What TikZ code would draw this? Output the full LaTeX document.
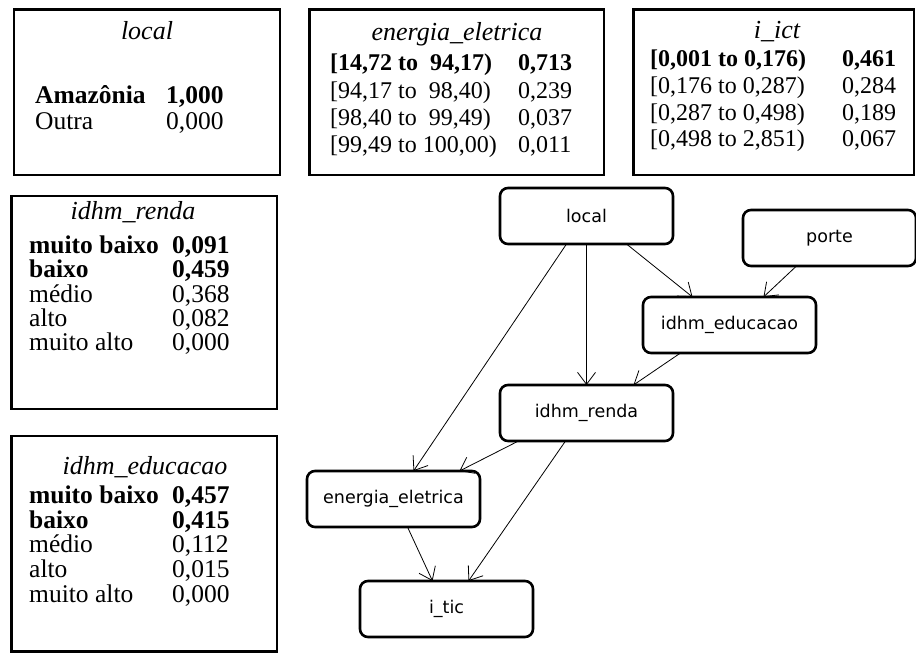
\documentclass[tikz,border=0pt]{standalone}
\usepackage{fontspec}
\setmainfont{Liberation Serif}
\newfontfamily\nodefont{DejaVu Sans}
\usetikzlibrary{arrows.meta,calc}

\begin{document}
\begin{tikzpicture}[x=1pt,y=-1pt,
  tablebox/.style={draw, line width=2.4pt},
  ttitle/.style={font=\fontsize{26}{26}\selectfont\itshape, anchor=base, inner sep=0pt},
  trow/.style={font=\fontsize{25.5}{25.5}\selectfont, anchor=base west, inner sep=0pt},
  trowb/.style={font=\fontsize{25.5}{25.5}\selectfont\bfseries, anchor=base west, inner sep=0pt},
  srow/.style={font=\fontsize{24}{24}\selectfont, anchor=base west, inner sep=0pt},
  srowb/.style={font=\fontsize{24}{24}\selectfont\bfseries, anchor=base west, inner sep=0pt},
  var/.style={draw, line width=2.6pt, rounded corners=8pt, minimum width=173pt,
    minimum height=56pt, inner sep=0pt, outer sep=0pt,
    font=\nodefont\fontsize{17.5}{20}\selectfont},
  link/.style={line width=0.8pt, -{Straight Barb[length=12pt,width=18pt,line width=0.8pt]}}
]
\useasboundingbox (0,0) rectangle (916,653);

% ---------- probability tables ----------
\draw[tablebox] (14,9.5) rectangle (280,175);
\node[ttitle] (loc-t) at (147,39) {local};
\node[trowb] (loc-1l) at (35,103) {Amazônia};
\node[trowb] (loc-1v) at (166,103) {1,000};
\node[trow]  (loc-2l) at (35,129) {Outra};
\node[trow]  (loc-2v) at (166,129) {0,000};

\draw[tablebox] (309.5,9.5) rectangle (604,175);
\node[ttitle] (en-t) at (457,40) {energia\_eletrica};
\node[srowb] (en-1l) at (330,70) {[14,72 to~~94,17)};
\node[srowb] (en-1v) at (518,70) {0,713};
\node[srow]  (en-2l) at (330,98) {[94,17 to~~98,40)};
\node[srow]  (en-2v) at (518,98) {0,239};
\node[srow]  (en-3l) at (330,125) {[98,40 to~~99,49)};
\node[srow]  (en-3v) at (518,125) {0,037};
\node[srow]  (en-4l) at (330,152) {[99,49 to 100,00)};
\node[srow]  (en-4v) at (518,152) {0,011};

\draw[tablebox] (633.5,9.5) rectangle (914,175);
\node[ttitle] (ict-t) at (777,38) {i\_ict};
\node[srowb] (ict-1l) at (650,66) {[0,001 to 0,176)};
\node[srowb] (ict-1v) at (842,66) {0,461};
\node[srow]  (ict-2l) at (650,93) {[0,176 to 0,287)};
\node[srow]  (ict-2v) at (842,93) {0,284};
\node[srow]  (ict-3l) at (650,120) {[0,287 to 0,498)};
\node[srow]  (ict-3v) at (842,120) {0,189};
\node[srow]  (ict-4l) at (650,146) {[0,498 to 2,851)};
\node[srow]  (ict-4v) at (842,146) {0,067};

\draw[tablebox] (11.5,196) rectangle (277,409);
\node[ttitle] (re-t) at (133,219) {idhm\_renda};
\node[trowb] (re-1l) at (29,253) {muito baixo};
\node[trowb] (re-1v) at (172,253) {0,091};
\node[trowb] (re-2l) at (29,277) {baixo};
\node[trowb] (re-2v) at (172,277) {0,459};
\node[trow]  (re-3l) at (29,302) {médio};
\node[trow]  (re-3v) at (172,302) {0,368};
\node[trow]  (re-4l) at (29,326) {alto};
\node[trow]  (re-4v) at (172,326) {0,082};
\node[trow]  (re-5l) at (29,350) {muito alto};
\node[trow]  (re-5v) at (172,350) {0,000};

\draw[tablebox] (11.5,436) rectangle (277,651.5);
\node[ttitle] (ed-t) at (145,474) {idhm\_educacao};
\node[trowb] (ed-1l) at (29,503) {muito baixo};
\node[trowb] (ed-1v) at (172,503) {0,457};
\node[trowb] (ed-2l) at (29,528) {baixo};
\node[trowb] (ed-2v) at (172,528) {0,415};
\node[trow]  (ed-3l) at (29,552) {médio};
\node[trow]  (ed-3v) at (172,552) {0,112};
\node[trow]  (ed-4l) at (29,577) {alto};
\node[trow]  (ed-4v) at (172,577) {0,015};
\node[trow]  (ed-5l) at (29,602) {muito alto};
\node[trow]  (ed-5v) at (172,602) {0,000};

% ---------- network ----------
\node[var] (local)   at (586.5,216) {local};
\node[var] (porte)   at (829.5,238) {porte};
\node[var] (educ)    at (729.5,325) {idhm\_educacao};
\node[var] (renda)   at (586.5,413) {idhm\_renda};
\node[var] (energia) at (393.5,499) {energia\_eletrica};
\node[var] (itic)    at (446.5,609) {i\_tic};

\draw[link] ($(local.south)+(-20,0)$) -- ($(energia.north)+(20,0)$);
\draw[link] (local.south) -- (renda.north);
\draw[link] ($(local.south)+(40,0)$) -- ($(educ.north)+(-37,0)$);
\draw[link] ($(porte.south)+(-33,0)$) -- ($(educ.north)+(34,0)$);
\draw[link] ($(educ.south)+(-49,0)$) -- ($(renda.north)+(47,0)$);
\draw[link] ($(renda.south)+(-68,0)$) -- ($(energia.north)+(66,0)$);
\draw[link] ($(renda.south)+(-21,0)$) -- ($(itic.north)+(22,0)$);
\draw[link] ($(energia.south)+(14,0)$) -- ($(itic.north)+(-14,0)$);
\end{tikzpicture}
\end{document}
